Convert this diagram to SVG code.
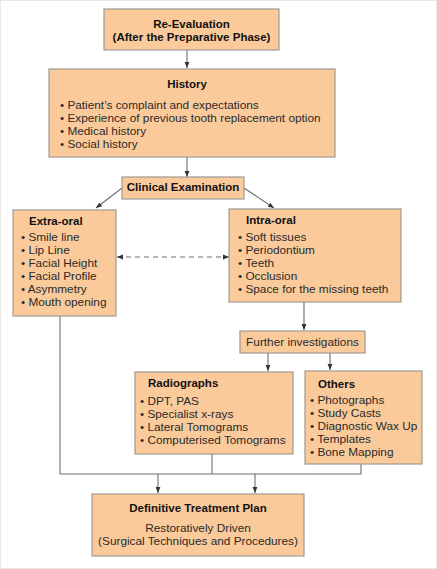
<svg xmlns="http://www.w3.org/2000/svg" width="437" height="569" viewBox="0 0 437 569">
<style>
.box{fill:#FBCA9B;stroke:#A09A94;stroke-width:1.2}
text{font-family:"Liberation Sans",Arial,sans-serif;font-size:11.8px;fill:#2a2a2a}
.b{font-weight:bold;font-size:11.5px;fill:#111}
.c{text-anchor:middle}
.ln{stroke:#6e6e6e;stroke-width:1.1;fill:none}
</style>
<defs>
<marker id="ah" viewBox="0 0 10 10" refX="10" refY="5" markerWidth="6" markerHeight="6" orient="auto-start-reverse" markerUnits="userSpaceOnUse">
<path d="M0,1 L10,5 L0,9 z" fill="#333"/>
</marker>
</defs>
<rect x="0.5" y="0.5" width="436" height="568" fill="#fff" stroke="#ebe8df"/>
<g id="connectors">
<line class="ln" x1="187" y1="50" x2="187" y2="68" marker-end="url(#ah)"/>
<line class="ln" x1="187" y1="157" x2="187" y2="177" marker-end="url(#ah)"/>
<line class="ln" x1="122" y1="188" x2="96" y2="208" marker-end="url(#ah)"/>
<line class="ln" x1="244" y1="188" x2="274" y2="208" marker-end="url(#ah)"/>
<line class="ln" x1="117" y1="257" x2="229" y2="257" stroke-dasharray="5,4" marker-start="url(#ah)" marker-end="url(#ah)"/>
<line class="ln" x1="304" y1="302" x2="304" y2="330" marker-end="url(#ah)"/>
<line class="ln" x1="268" y1="353" x2="268" y2="371" marker-end="url(#ah)"/>
<line class="ln" x1="330" y1="353" x2="330" y2="370" marker-end="url(#ah)"/>
<polyline class="ln" points="60,316 60,474 361,474 361,464"/>
<line class="ln" x1="212" y1="454" x2="212" y2="474"/>
<line class="ln" x1="158" y1="474" x2="158" y2="493" marker-end="url(#ah)"/>
<line class="ln" x1="255" y1="474" x2="255" y2="493" marker-end="url(#ah)"/>
</g>
<g id="reeval">
<rect class="box" x="104" y="9" width="175" height="41"/>
<text class="b c" x="191.5" y="28">Re-Evaluation</text>
<text class="b c" x="191.5" y="41">(After the Preparative Phase)</text>
</g>
<g id="history">
<rect class="box" x="49" y="69" width="286" height="88"/>
<text class="b c" x="187" y="88">History</text>
<text x="60" y="109">• Patient’s complaint and expectations</text>
<text x="60" y="122">• Experience of previous tooth replacement option</text>
<text x="60" y="135">• Medical history</text>
<text x="60" y="148">• Social history</text>
</g>
<g id="clinical">
<rect class="box" x="122" y="177" width="122" height="22"/>
<text class="b c" x="183" y="191">Clinical Examination</text>
</g>
<g id="extraoral">
<rect class="box" x="13" y="210" width="103" height="106"/>
<text class="b" x="29" y="225">Extra-oral</text>
<text x="21" y="241">• Smile line</text>
<text x="21" y="254">• Lip Line</text>
<text x="21" y="267">• Facial Height</text>
<text x="21" y="280">• Facial Profile</text>
<text x="21" y="293">• Asymmetry</text>
<text x="21" y="306">• Mouth opening</text>
</g>
<g id="intraoral">
<rect class="box" x="229" y="209" width="172" height="93"/>
<text class="b" x="246" y="224">Intra-oral</text>
<text x="238" y="241">• Soft tissues</text>
<text x="238" y="254">• Periodontium</text>
<text x="238" y="267">• Teeth</text>
<text x="238" y="280">• Occlusion</text>
<text x="238" y="293">• Space for the missing teeth</text>
</g>
<g id="further">
<rect class="box" x="240" y="331" width="125" height="22"/>
<text class="c" x="302.5" y="346">Further investigations</text>
</g>
<g id="radiographs">
<rect class="box" x="135" y="372" width="158" height="82"/>
<text class="b" x="148" y="387">Radiographs</text>
<text x="140" y="405">• DPT, PAS</text>
<text x="140" y="418">• Specialist x-rays</text>
<text x="140" y="431">• Lateral Tomograms</text>
<text x="140" y="444">• Computerised Tomograms</text>
</g>
<g id="others">
<rect class="box" x="305" y="371" width="117" height="93"/>
<text class="b" x="318" y="388">Others</text>
<text x="310" y="404">• Photographs</text>
<text x="310" y="417">• Study Casts</text>
<text x="310" y="430">• Diagnostic Wax Up</text>
<text x="310" y="443">• Templates</text>
<text x="310" y="456">• Bone Mapping</text>
</g>
<g id="definitive">
<rect class="box" x="92" y="494" width="212" height="62"/>
<text class="b c" x="198" y="512">Definitive Treatment Plan</text>
<text class="c" x="198" y="532">Restoratively Driven</text>
<text class="c" x="198" y="545">(Surgical Techniques and Procedures)</text>
</g>
</svg>
